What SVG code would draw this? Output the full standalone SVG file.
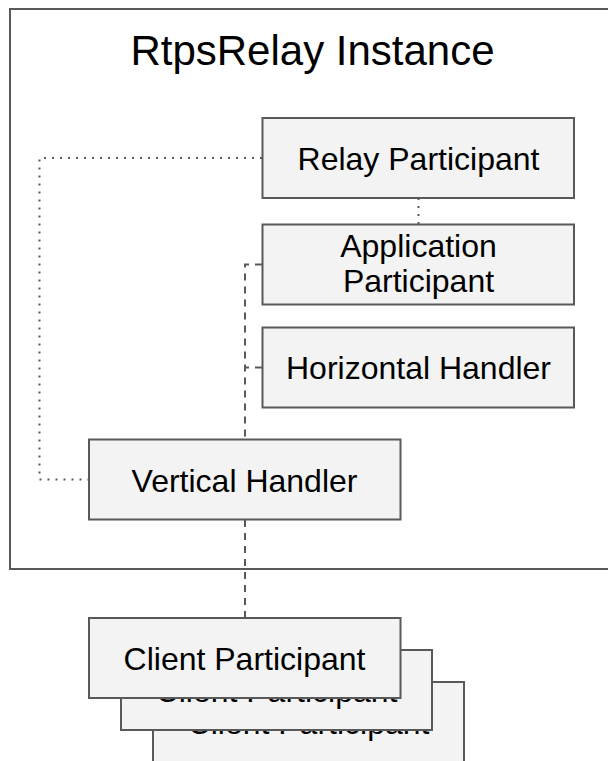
<svg xmlns="http://www.w3.org/2000/svg" width="608" height="761" viewBox="0 0 608 761">
  <style>
    .box { fill: #f3f3f3; stroke: #595959; stroke-width: 2; }
    .frame { fill: #ffffff; stroke: #595959; stroke-width: 2; }
    .label { font-family: "Liberation Sans", Arial, sans-serif; font-size: 32px; fill: #000000; text-anchor: middle; }
    .title { font-family: "Liberation Sans", Arial, sans-serif; font-size: 42px; fill: #000000; text-anchor: middle; }
    .dotted { fill: none; stroke: #595959; stroke-width: 2; stroke-dasharray: 2 6; }
    .dashed { fill: none; stroke: #595959; stroke-width: 2; stroke-dasharray: 7 6; }
  </style>

  <!-- RtpsRelay instance container -->
  <g id="rtpsrelay-instance">
    <rect class="frame" x="10" y="9" width="620" height="560"/>
    <text class="title" x="312.5" y="65">RtpsRelay Instance</text>
  </g>

  <!-- connectors -->
  <g id="connectors">
    <path class="dotted" d="M262,158 H39.5 V479.5 H89"/>
    <path class="dotted" d="M418.5,198 V224"/>
    <path class="dashed" d="M262,264.5 H245 V439"/>
    <path class="dashed" d="M262,367.5 H245"/>
    <path class="dashed" d="M245,520 V618"/>
  </g>

  <g id="relay-participant">
    <rect class="box" x="262.5" y="118" width="311.5" height="80"/>
    <text class="label" x="418.5" y="170">Relay Participant</text>
  </g>

  <g id="application-participant">
    <rect class="box" x="262.5" y="224.5" width="311.5" height="80"/>
    <text class="label" x="418.5" y="257">Application</text>
    <text class="label" x="418.5" y="292">Participant</text>
  </g>

  <g id="horizontal-handler">
    <rect class="box" x="262.5" y="327.5" width="311.5" height="80"/>
    <text class="label" x="418.5" y="379">Horizontal Handler</text>
  </g>

  <g id="vertical-handler">
    <rect class="box" x="89" y="439.5" width="311.5" height="80"/>
    <text class="label" x="244.5" y="491.5">Vertical Handler</text>
  </g>

  <!-- stacked client participants, back to front -->
  <g id="client-participant-3">
    <rect class="box" x="153" y="682" width="311" height="80"/>
    <text class="label" x="308.5" y="734">Client Participant</text>
  </g>
  <g id="client-participant-2">
    <rect class="box" x="121" y="650" width="311" height="80"/>
    <text class="label" x="276.5" y="702">Client Participant</text>
  </g>
  <g id="client-participant-1">
    <rect class="box" x="89" y="618" width="311.5" height="80"/>
    <text class="label" x="244.5" y="670">Client Participant</text>
  </g>
</svg>
